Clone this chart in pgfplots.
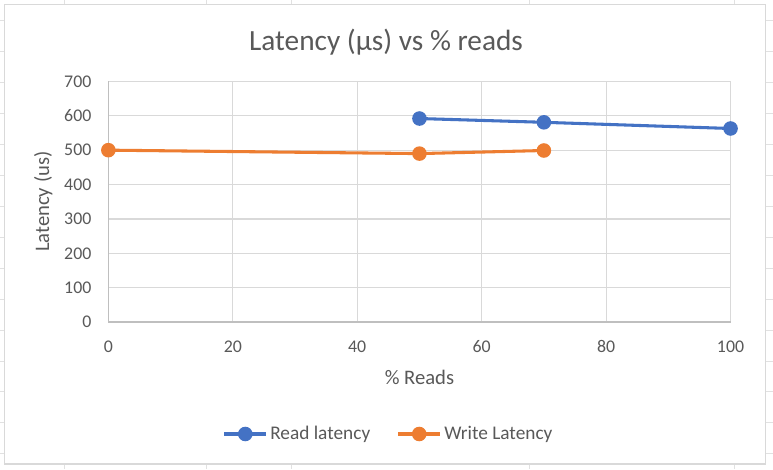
\documentclass[border=0pt]{standalone}
\usepackage{fontspec}
\setmainfont{Carlito}
\usepackage{pgfplots}
\pgfplotsset{compat=1.18}
\definecolor{xlblue}{HTML}{4472C4}
\definecolor{xlorange}{HTML}{ED7D31}
\definecolor{xltext}{HTML}{595959}
\definecolor{xlgrid}{HTML}{D9D9D9}
\definecolor{xlaxis}{HTML}{BFBFBF}
\definecolor{sheet}{HTML}{E1E1E1}
\begin{document}
\begin{tikzpicture}[x=0.75pt,y=0.75pt]
% page frame
\fill[white] (0,0) rectangle (773,469);
% spreadsheet cell lines outside the chart
\foreach \yy in {20,51,82,113,144,175,206,237,268,299,330,361,392,423,454}{
  \draw[sheet,line width=0.75pt] (0,469-\yy) -- (4,469-\yy);
  \draw[sheet,line width=0.75pt] (766,469-\yy) -- (773,469-\yy);
}
\foreach \xx in {64,206,291,530,735}{
  \draw[sheet,line width=0.75pt] (\xx,469) -- (\xx,465);
  \draw[sheet,line width=0.75pt] (\xx,0) -- (\xx,5);
}
% chart border
\draw[xlgrid,line width=1pt,fill=white] (4,5) rectangle (766,465);
% title
\node[text=xltext,font=\fontsize{22}{26}\selectfont] at (386,427) {Latency (µs) vs \% reads};
\begin{axis}[
  at={(81pt,110.25pt)}, anchor=south west,
  scale only axis,
  width=467.25pt, height=180.75pt,
  xmin=0, xmax=100, ymin=0, ymax=700,
  xtick={0,20,...,100}, ytick={0,100,...,700},
  grid=major,
  major grid style={xlgrid,line width=0.9pt},
  axis line style={xlaxis,line width=0.9pt},
  axis x line*=bottom, axis y line*=left,
  separate axis lines,
  x axis line style={-}, y axis line style={-},
  tick style={draw=none},
  ticklabel style={text=xltext,font=\fontsize{13.4}{15}\selectfont},
  /pgf/number format/assume math mode=true,
  xticklabel style={yshift=-10.5pt},
  yticklabel style={xshift=-9.25pt},
  xlabel={\% Reads},
  ylabel={Latency (us)},
  label style={text=xltext,font=\fontsize{15.5}{18}\selectfont},
  xlabel style={yshift=-6pt},
  ylabel style={yshift=2pt},
  legend columns=2,
  legend style={at={(0.451,-0.465)}, anchor=center, draw=none, fill=none,
    font=\fontsize{14.5}{17}\selectfont, text=xltext,
    /tikz/every even column/.append style={column sep=18pt},
    inner sep=0pt},
  legend cell align=left,
  legend image code/.code={\draw[mark repeat=2,mark phase=2] plot coordinates {(0cm,0cm) (0.55cm,0cm) (1.1cm,0cm)};},
  every axis plot/.append style={line width=2.3pt, mark=*, mark size=4.3pt},
  clip=false,
]
\addplot[xlblue, mark options={fill=xlblue,draw=xlblue}] coordinates {(50,592) (70,581) (100,563)};
\addlegendentry{Read latency}
\addplot[xlorange, mark options={fill=xlorange,draw=xlorange}] coordinates {(0,500) (50,490) (70,499)};
\addlegendentry{Write Latency}
\end{axis}
\end{tikzpicture}
\end{document}
